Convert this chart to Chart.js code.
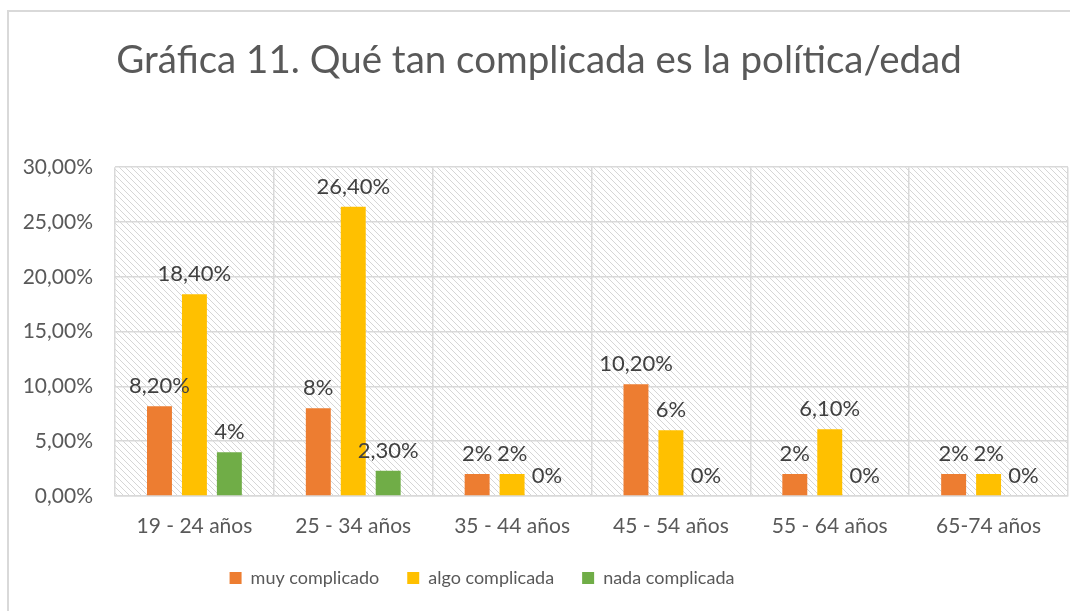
<!DOCTYPE html>
<html>
<head>
<meta charset="utf-8">
<script src="https://cdn.jsdelivr.net/npm/chart.js@4/dist/chart.umd.min.js"></script>
<style>
  body { margin: 0; background: #fff; }
  #wrap { position: relative; width: 1070px; height: 611px; }
  #frame { position: absolute; left: 7px; top: 10px; right: 0; bottom: 0;
           border-left: 2px solid #d9d9d9; border-top: 2px solid #d9d9d9; }
  canvas { position: absolute; left: 0; top: 0; }
</style>
</head>
<body>
<div id="wrap">
  <div id="frame"></div>
  <canvas id="chart" width="1070" height="611"></canvas>
</div>
<script>
// datos
const ageGroups = ['19 - 24 años', '25 - 34 años', '35 - 44 años', '45 - 54 años', '55 - 64 años', '65-74 años'];
const muyComplicado = [8.2, 8, 2, 10.2, 2, 2];
const algoComplicada = [18.4, 26.4, 2, 6, 6.1, 2];
const nadaComplicada = [4, 2.3, 0, 0, 0, 0];
const yTicks = [0, 5, 10, 15, 20, 25, 30];

const FONT = 'Lato, "Open Sans", sans-serif';

function pct(v) {
    if (Number.isInteger(v)) return v + '%';
    return v.toFixed(2).replace('.', ',') + '%';
}

// trama diagonal del fondo del área de trazado
function makeHatch() {
    const c = document.createElement('canvas');
    c.width = 6; c.height = 6;
    const g = c.getContext('2d');
    g.strokeStyle = '#d6d6d6';
    g.lineWidth = 1;
    g.beginPath();
    g.moveTo(0, 0); g.lineTo(6, 6);
    g.moveTo(-1, 5); g.lineTo(1, 7);
    g.moveTo(5, -1); g.lineTo(7, 1);
    g.stroke();
    return g.createPattern(c, 'repeat');
}

const hatchPlugin = {
    id: 'hatch',
    beforeDraw(chart) {
        const { ctx, chartArea: a } = chart;
        ctx.save();
        ctx.fillStyle = makeHatch();
        ctx.fillRect(a.left, a.top, a.right - a.left, a.bottom - a.top);
        ctx.restore();
    }
};

// la leyenda del original está algo desplazada a la izquierda
const legendShift = {
    id: 'legendShift',
    afterLayout(chart) {
        chart.legend.left -= 57;
        chart.legend.right -= 57;
    }
};

const labelPlugin = {
    id: 'barLabels',
    afterDatasetsDraw(chart) {
        const ctx = chart.ctx;
        ctx.save();
        ctx.font = '22px ' + FONT;
        ctx.fillStyle = '#404040';
        ctx.textAlign = 'center';
        ctx.textBaseline = 'alphabetic';
        chart.data.datasets.forEach((ds, i) => {
            chart.getDatasetMeta(i).data.forEach((bar, j) => {
                ctx.fillText(pct(ds.data[j]), bar.x, bar.y - 13);
            });
        });
        ctx.restore();
    }
};

new Chart(document.getElementById('chart').getContext('2d'), {
    type: 'bar',
    data: {
        labels: ageGroups,
        datasets: [
            { label: 'muy complicado', data: muyComplicado, backgroundColor: '#ED7D31' },
            { label: 'algo complicada', data: algoComplicada, backgroundColor: '#FFC000' },
            { label: 'nada complicada', data: nadaComplicada, backgroundColor: '#70AD47' }
        ]
    },
    options: {
        responsive: false,
        animation: false,
        layout: { padding: { left: 10, right: 2, top: 0, bottom: 14 } },
        datasets: { bar: { categoryPercentage: 0.66, barPercentage: 0.714 } },
        plugins: {
            title: {
                display: true,
                text: 'Gráfica 11. Qué tan complicada es la política/edad',
                color: '#595959',
                font: { family: FONT, size: 38.5, weight: 'normal' },
                padding: { top: 37, bottom: 84 }
            },
            legend: {
                position: 'bottom',
                labels: {
                    color: '#595959',
                    font: { family: FONT, size: 18 },
                    boxWidth: 12, boxHeight: 12,
                    padding: 28
                }
            },
            tooltip: { enabled: false }
        },
        scales: {
            x: {
                grid: { offset: true, color: '#d9d9d9', lineWidth: 1.5, drawTicks: false },
                border: { color: '#d9d9d9', width: 1.5 },
                ticks: { color: '#595959', font: { family: FONT, size: 21 }, padding: 18 },
                afterFit(s) { s.height = 45; }
            },
            y: {
                min: 0, max: 30,
                afterBuildTicks(s) { s.ticks = yTicks.map(v => ({ value: v })); },
                grid: { color: '#d9d9d9', lineWidth: 1.5, drawTicks: false },
                border: { display: false },
                ticks: {
                    color: '#595959', font: { family: FONT, size: 21 }, padding: 22,
                    callback: v => v.toFixed(2).replace('.', ',') + '%'
                },
                afterFit(s) { s.width = 105; }
            }
        }
    },
    plugins: [hatchPlugin, legendShift, labelPlugin]
});
</script>
</body>
</html>
